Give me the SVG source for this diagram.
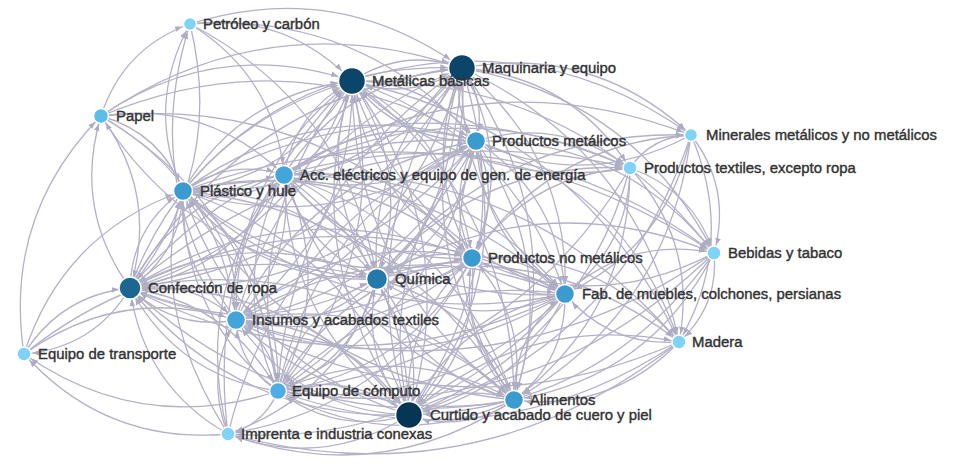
<svg xmlns="http://www.w3.org/2000/svg" width="975" height="466" viewBox="0 0 975 466">
<style>
.e path{fill:none;stroke:#b3b1c6;stroke-width:1.3}
.tl{marker-end:url(#al)}
.tm{marker-end:url(#am)}
.ts{marker-end:url(#as)}
.n circle{stroke:#fff;stroke-width:1.5}
.n text{font-family:"Liberation Sans",Arial,sans-serif;font-size:14.9px;fill:#333;stroke:#333;stroke-width:.4}
.c0{fill:#7fd2f8}.c1{fill:#5bbde9}.c2{fill:#3b9bd1}.c3{fill:#43a5da}.c4{fill:#4daee5}.c5{fill:#2479aa}.c6{fill:#1b6791}.c7{fill:#0b456a}.c8{fill:#073555}
</style>
<defs>
<marker id="al" viewBox="0 -5 10 10" refX="31" refY="0" markerWidth="7" markerHeight="7" markerUnits="userSpaceOnUse" orient="auto"><path d="M0,-4L10,0L0,4z" fill="#aeacc2"/></marker>
<marker id="am" viewBox="0 -5 10 10" refX="26" refY="0" markerWidth="7" markerHeight="7" markerUnits="userSpaceOnUse" orient="auto"><path d="M0,-4L10,0L0,4z" fill="#aeacc2"/></marker>
<marker id="as" viewBox="0 -5 10 10" refX="22" refY="0" markerWidth="7" markerHeight="7" markerUnits="userSpaceOnUse" orient="auto"><path d="M0,-4L10,0L0,4z" fill="#aeacc2"/></marker>
</defs>
<rect width="975" height="466" fill="#fff"/>
<g id="connectors" class="e">
<g class="tl">
<path d="M352 81Q404 47 462 68"/>
<path d="M476 141Q451 108 462 68"/>
<path d="M284 175Q346 77 462 68"/>
<path d="M183 191Q292 60 462 68"/>
<path d="M472 258Q420 166 462 68"/>
<path d="M377 279Q367 152 462 68"/>
<path d="M130 288Q241 95 462 68"/>
<path d="M565 294Q457 207 462 68"/>
<path d="M236 320Q286 138 462 68"/>
<path d="M278 391Q289 184 462 68"/>
<path d="M514 400Q405 247 462 68"/>
<path d="M409 415Q349 228 462 68"/>
<path d="M101 116Q270 2 462 68"/>
<path d="M190 24Q337 -22 462 68"/>
<path d="M462 68Q410 102 352 81"/>
<path d="M476 141Q399 142 352 81"/>
<path d="M284 175Q295 111 352 81"/>
<path d="M183 191Q240 94 352 81"/>
<path d="M472 258Q368 200 352 81"/>
<path d="M377 279Q315 186 352 81"/>
<path d="M130 288Q189 129 352 81"/>
<path d="M565 294Q405 241 352 81"/>
<path d="M236 320Q234 172 352 81"/>
<path d="M278 391Q238 218 352 81"/>
<path d="M514 400Q353 281 352 81"/>
<path d="M409 415Q297 262 352 81"/>
<path d="M190 24Q285 12 352 81"/>
<path d="M101 116Q218 36 352 81"/>
<path d="M630 168Q469 194 352 81"/>
<path d="M228 434Q202 227 352 81"/>
<path d="M462 68Q522 255 409 415"/>
<path d="M352 81Q464 234 409 415"/>
<path d="M476 141Q511 295 409 415"/>
<path d="M284 175Q407 264 409 415"/>
<path d="M183 191Q352 247 409 415"/>
<path d="M472 258Q480 352 409 415"/>
<path d="M377 279Q427 339 409 415"/>
<path d="M130 288Q301 282 409 415"/>
<path d="M565 294Q517 394 409 415"/>
<path d="M236 320Q346 324 409 415"/>
<path d="M278 391Q350 370 409 415"/>
<path d="M514 400Q465 434 409 415"/>
<path d="M630 168Q581 347 409 415"/>
<path d="M714 253Q602 410 409 415"/>
<path d="M691 135Q620 346 409 415"/>
</g>
<g class="tm">
<path d="M462 68Q487 101 476 141"/>
<path d="M352 81Q429 80 476 141"/>
<path d="M284 175Q372 110 476 141"/>
<path d="M183 191Q317 93 476 141"/>
<path d="M472 258Q445 199 476 141"/>
<path d="M377 279Q392 185 476 141"/>
<path d="M130 288Q266 128 476 141"/>
<path d="M565 294Q482 240 476 141"/>
<path d="M236 320Q311 171 476 141"/>
<path d="M278 391Q315 217 476 141"/>
<path d="M514 400Q430 280 476 141"/>
<path d="M409 415Q374 261 476 141"/>
<path d="M190 24Q362 11 476 141"/>
<path d="M101 116Q295 35 476 141"/>
<path d="M691 135Q585 192 476 141"/>
<path d="M228 434Q279 226 476 141"/>
<path d="M462 68Q400 166 284 175"/>
<path d="M352 81Q342 145 284 175"/>
<path d="M476 141Q389 206 284 175"/>
<path d="M183 191Q230 158 284 175"/>
<path d="M472 258Q357 264 284 175"/>
<path d="M377 279Q305 250 284 175"/>
<path d="M130 288Q179 193 284 175"/>
<path d="M565 294Q395 305 284 175"/>
<path d="M236 320Q224 236 284 175"/>
<path d="M278 391Q227 282 284 175"/>
<path d="M514 400Q343 345 284 175"/>
<path d="M409 415Q287 326 284 175"/>
<path d="M190 24Q275 76 284 175"/>
<path d="M101 116Q207 100 284 175"/>
<path d="M228 434Q191 291 284 175"/>
<path d="M462 68Q353 199 183 191"/>
<path d="M352 81Q295 178 183 191"/>
<path d="M476 141Q342 239 183 191"/>
<path d="M284 175Q238 208 183 191"/>
<path d="M472 258Q311 297 183 191"/>
<path d="M377 279Q258 284 183 191"/>
<path d="M130 288Q132 226 183 191"/>
<path d="M565 294Q348 338 183 191"/>
<path d="M236 320Q177 269 183 191"/>
<path d="M278 391Q181 315 183 191"/>
<path d="M514 400Q296 378 183 191"/>
<path d="M409 415Q240 360 183 191"/>
<path d="M101 116Q161 133 183 191"/>
<path d="M228 434Q145 301 183 191"/>
<path d="M24 354Q63 233 183 191"/>
<path d="M462 68Q515 161 472 258"/>
<path d="M352 81Q456 140 472 258"/>
<path d="M476 141Q503 201 472 258"/>
<path d="M284 175Q399 170 472 258"/>
<path d="M183 191Q344 152 472 258"/>
<path d="M377 279Q419 245 472 258"/>
<path d="M130 288Q294 188 472 258"/>
<path d="M565 294Q510 299 472 258"/>
<path d="M236 320Q339 230 472 258"/>
<path d="M278 391Q342 276 472 258"/>
<path d="M514 400Q458 340 472 258"/>
<path d="M409 415Q401 321 472 258"/>
<path d="M101 116Q322 94 472 258"/>
<path d="M714 253Q594 316 472 258"/>
<path d="M462 68Q472 195 377 279"/>
<path d="M352 81Q414 174 377 279"/>
<path d="M476 141Q461 235 377 279"/>
<path d="M284 175Q357 204 377 279"/>
<path d="M183 191Q302 187 377 279"/>
<path d="M472 258Q430 292 377 279"/>
<path d="M130 288Q251 222 377 279"/>
<path d="M565 294Q467 334 377 279"/>
<path d="M236 320Q296 264 377 279"/>
<path d="M278 391Q300 310 377 279"/>
<path d="M514 400Q415 374 377 279"/>
<path d="M409 415Q359 355 377 279"/>
<path d="M190 24Q347 105 377 279"/>
<path d="M24 354Q182 228 377 279"/>
<path d="M462 68Q351 261 130 288"/>
<path d="M352 81Q293 240 130 288"/>
<path d="M476 141Q340 301 130 288"/>
<path d="M284 175Q235 270 130 288"/>
<path d="M183 191Q181 253 130 288"/>
<path d="M472 258Q309 359 130 288"/>
<path d="M377 279Q256 345 130 288"/>
<path d="M565 294Q346 400 130 288"/>
<path d="M236 320Q175 331 130 288"/>
<path d="M278 391Q178 377 130 288"/>
<path d="M514 400Q294 440 130 288"/>
<path d="M409 415Q238 421 130 288"/>
<path d="M190 24Q226 171 130 288"/>
<path d="M101 116Q159 195 130 288"/>
<path d="M24 354Q61 295 130 288"/>
<path d="M228 434Q143 386 130 288"/>
<path d="M462 68Q570 155 565 294"/>
<path d="M352 81Q512 134 565 294"/>
<path d="M476 141Q559 195 565 294"/>
<path d="M284 175Q454 164 565 294"/>
<path d="M183 191Q400 147 565 294"/>
<path d="M472 258Q528 253 565 294"/>
<path d="M377 279Q475 240 565 294"/>
<path d="M130 288Q349 182 565 294"/>
<path d="M236 320Q394 225 565 294"/>
<path d="M278 391Q397 271 565 294"/>
<path d="M514 400Q513 334 565 294"/>
<path d="M409 415Q457 316 565 294"/>
<path d="M691 135Q668 246 565 294"/>
<path d="M630 168Q629 247 565 294"/>
<path d="M679 342Q610 347 565 294"/>
<path d="M462 68Q412 251 236 320"/>
<path d="M352 81Q354 230 236 320"/>
<path d="M476 141Q401 291 236 320"/>
<path d="M284 175Q296 260 236 320"/>
<path d="M183 191Q242 242 236 320"/>
<path d="M472 258Q370 348 236 320"/>
<path d="M377 279Q317 335 236 320"/>
<path d="M130 288Q191 278 236 320"/>
<path d="M565 294Q407 389 236 320"/>
<path d="M278 391Q239 366 236 320"/>
<path d="M514 400Q355 430 236 320"/>
<path d="M409 415Q299 411 236 320"/>
<path d="M101 116Q220 184 236 320"/>
<path d="M24 354Q122 284 236 320"/>
<path d="M228 434Q204 375 236 320"/>
<path d="M714 253Q492 406 236 320"/>
<path d="M679 342Q452 442 236 320"/>
<path d="M462 68Q451 276 278 391"/>
<path d="M352 81Q393 255 278 391"/>
<path d="M476 141Q440 316 278 391"/>
<path d="M284 175Q335 285 278 391"/>
<path d="M183 191Q281 267 278 391"/>
<path d="M472 258Q408 373 278 391"/>
<path d="M377 279Q356 360 278 391"/>
<path d="M130 288Q230 303 278 391"/>
<path d="M565 294Q446 414 278 391"/>
<path d="M236 320Q275 345 278 391"/>
<path d="M514 400Q394 455 278 391"/>
<path d="M409 415Q338 436 278 391"/>
<path d="M101 116Q258 209 278 391"/>
<path d="M630 168Q510 368 278 391"/>
<path d="M714 253Q531 431 278 391"/>
<path d="M679 342Q491 467 278 391"/>
<path d="M462 68Q571 221 514 400"/>
<path d="M352 81Q513 200 514 400"/>
<path d="M476 141Q560 261 514 400"/>
<path d="M284 175Q455 230 514 400"/>
<path d="M183 191Q401 213 514 400"/>
<path d="M472 258Q529 319 514 400"/>
<path d="M377 279Q476 305 514 400"/>
<path d="M130 288Q350 248 514 400"/>
<path d="M565 294Q566 360 514 400"/>
<path d="M236 320Q395 291 514 400"/>
<path d="M278 391Q398 337 514 400"/>
<path d="M409 415Q458 381 514 400"/>
<path d="M691 135Q669 312 514 400"/>
<path d="M630 168Q630 313 514 400"/>
<path d="M714 253Q651 377 514 400"/>
<path d="M679 342Q611 412 514 400"/>
</g>
<g class="ts">
<path d="M101 116Q123 48 190 24"/>
<path d="M183 191Q145 106 190 24"/>
<path d="M236 320Q139 184 190 24"/>
<path d="M130 288Q73 209 101 116"/>
<path d="M24 354Q3 216 101 116"/>
<path d="M377 279Q198 267 101 116"/>
<path d="M462 68Q593 44 691 135"/>
<path d="M352 81Q535 23 691 135"/>
<path d="M630 168Q652 136 691 135"/>
<path d="M472 258Q551 142 691 135"/>
<path d="M377 279Q498 129 691 135"/>
<path d="M284 175Q478 53 691 135"/>
<path d="M462 68Q571 76 630 168"/>
<path d="M476 141Q560 116 630 168"/>
<path d="M472 258Q529 174 630 168"/>
<path d="M284 175Q455 85 630 168"/>
<path d="M377 279Q476 160 630 168"/>
<path d="M183 191Q401 68 630 168"/>
<path d="M130 288Q350 103 630 168"/>
<path d="M691 135Q732 188 714 253"/>
<path d="M630 168Q693 190 714 253"/>
<path d="M462 68Q634 98 714 253"/>
<path d="M352 81Q576 77 714 253"/>
<path d="M476 141Q623 138 714 253"/>
<path d="M565 294Q629 236 714 253"/>
<path d="M377 279Q539 182 714 253"/>
<path d="M284 175Q519 107 714 253"/>
<path d="M183 191Q464 89 714 253"/>
<path d="M691 135Q737 242 679 342"/>
<path d="M630 168Q698 243 679 342"/>
<path d="M714 253Q719 306 679 342"/>
<path d="M472 258Q597 248 679 342"/>
<path d="M476 141Q628 191 679 342"/>
<path d="M409 415Q526 311 679 342"/>
<path d="M462 68Q639 151 679 342"/>
<path d="M377 279Q544 235 679 342"/>
<path d="M352 81Q581 130 679 342"/>
<path d="M284 175Q523 160 679 342"/>
<path d="M130 288Q94 348 24 354"/>
<path d="M228 434Q106 445 24 354"/>
<path d="M278 391Q142 436 24 354"/>
<path d="M278 391Q264 425 228 434"/>
<path d="M409 415Q323 470 228 434"/>
<path d="M514 400Q380 489 228 434"/>
<path d="M377 279Q341 394 228 434"/>
<path d="M472 258Q394 407 228 434"/>
<path d="M565 294Q432 448 228 434"/>
<path d="M679 342Q477 501 228 434"/>
</g>
</g>
<g id="nodes" class="n">
<g id="n-petroleo"><circle class="c0" cx="190" cy="24" r="6.5"/><text x="203" y="29">Petróleo y carbón</text></g>
<g id="n-maquinaria"><circle class="c7" cx="462" cy="68" r="13.5"/><text x="482" y="73">Maquinaria y equipo</text></g>
<g id="n-metalicas-basicas"><circle class="c7" cx="352" cy="81" r="13.5"/><text x="372" y="86">Metálicas básicas</text></g>
<g id="n-papel"><circle class="c1" cx="101" cy="116" r="7.5"/><text x="116" y="121">Papel</text></g>
<g id="n-productos-metalicos"><circle class="c2" cx="476" cy="141" r="9.5"/><text x="492" y="146">Productos metálicos</text></g>
<g id="n-minerales"><circle class="c0" cx="691" cy="135" r="6.5"/><text x="706" y="140">Minerales metálicos y no metálicos</text></g>
<g id="n-productos-textiles"><circle class="c0" cx="630" cy="168" r="7"/><text x="644" y="173">Productos textiles, excepto ropa</text></g>
<g id="n-acc-electricos"><circle class="c3" cx="284" cy="175" r="9.5"/><text x="300" y="180">Acc. eléctricos y equipo de gen. de energía</text></g>
<g id="n-plastico"><circle class="c2" cx="183" cy="191" r="9.5"/><text x="200" y="196">Plástico y hule</text></g>
<g id="n-bebidas"><circle class="c0" cx="714" cy="253" r="7"/><text x="728" y="258">Bebidas y tabaco</text></g>
<g id="n-productos-no-metalicos"><circle class="c2" cx="472" cy="258" r="9.5"/><text x="488" y="263">Productos no metálicos</text></g>
<g id="n-quimica"><circle class="c5" cx="377" cy="279" r="10.5"/><text x="395" y="284">Química</text></g>
<g id="n-confeccion"><circle class="c6" cx="130" cy="288" r="11"/><text x="148" y="293">Confección de ropa</text></g>
<g id="n-muebles"><circle class="c2" cx="565" cy="294" r="9.5"/><text x="582" y="299">Fab. de muebles, colchones, persianas</text></g>
<g id="n-insumos"><circle class="c3" cx="236" cy="320" r="9.5"/><text x="252" y="325">Insumos y acabados textiles</text></g>
<g id="n-madera"><circle class="c0" cx="679" cy="342" r="7"/><text x="692" y="347">Madera</text></g>
<g id="n-transporte"><circle class="c0" cx="24" cy="354" r="7"/><text x="38" y="359">Equipo de transporte</text></g>
<g id="n-computo"><circle class="c4" cx="278" cy="391" r="8.5"/><text x="292" y="396">Equipo de cómputo</text></g>
<g id="n-alimentos"><circle class="c2" cx="514" cy="400" r="9.5"/><text x="530" y="405">Alimentos</text></g>
<g id="n-curtido"><circle class="c8" cx="409" cy="415" r="13.5"/><text x="430" y="420">Curtido y acabado de cuero y piel</text></g>
<g id="n-imprenta"><circle class="c0" cx="228" cy="434" r="7"/><text x="241" y="439">Imprenta e industria conexas</text></g>
</g>
</svg>
